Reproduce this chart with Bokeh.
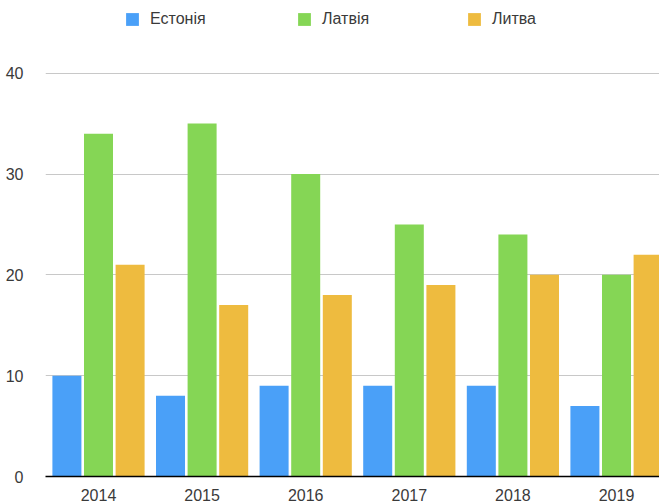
import numpy as np
from bokeh.plotting import figure
from bokeh.models import Range1d, FixedTicker, Legend, LegendItem, ColumnDataSource
from bokeh.embed import file_html
from bokeh.resources import INLINE

years = ["2014", "2015", "2016", "2017", "2018", "2019"]
series_names = ["Естонія", "Латвія", "Литва"]
estonia = [10, 8, 9, 9, 9, 7]
latvia = [34, 35, 30, 25, 24, 20]
lithuania = [21, 17, 18, 19, 20, 22]
y_ticks = [0, 10, 20, 30, 40]

colors = ["#4aa0f8", "#85d655", "#eebb3f"]
offsets = [-0.305, 0.0, 0.305]
FONT = "Liberation Sans"
TEXT = "#3a3a3a"

p = figure(width=659, height=503, output_backend="svg", toolbar_location=None,
           x_range=Range1d(-0.5116, 5.415), y_range=Range1d(0, 47.21),
           min_border_left=45, min_border_right=0, min_border_top=0, min_border_bottom=25)
p.outline_line_color = None
p.background_fill_color = "white"

x = np.arange(len(years))
renderers = []
for vals, col, off in zip([estonia, latvia, lithuania], colors, offsets):
    src = ColumnDataSource(dict(x=x + off, top=vals))
    r = p.vbar(x="x", top="top", width=0.28, source=src, fill_color=col, line_color=None)
    renderers.append(r)

# axes
p.xaxis.ticker = FixedTicker(ticks=list(x))
p.xaxis.major_label_overrides = {int(i): y for i, y in zip(x, years)}
p.xaxis.axis_line_color = "black"
p.xaxis.axis_line_width = 1.5
p.xaxis.major_tick_line_color = None
p.xaxis.minor_tick_line_color = None
p.xaxis.major_label_standoff = 6
p.xaxis.major_label_text_font = FONT
p.xaxis.major_label_text_font_size = "16px"
p.xaxis.major_label_text_color = TEXT

p.yaxis.ticker = FixedTicker(ticks=y_ticks)
p.yaxis.axis_line_color = None
p.yaxis.major_tick_line_color = None
p.yaxis.minor_tick_line_color = None
p.yaxis.major_label_standoff = 16
p.yaxis.major_label_text_font = FONT
p.yaxis.major_label_text_font_size = "16px"
p.yaxis.major_label_text_color = TEXT

p.xgrid.grid_line_color = None
p.ygrid.ticker = FixedTicker(ticks=y_ticks)
p.ygrid.grid_line_color = "#c8c8c8"
p.ygrid.grid_line_width = 1

# legends: one per item for exact placement
legend_x = [79, 251, 421]
for name, r, lx in zip(series_names, renderers, legend_x):
    lg = Legend(items=[LegendItem(label=name, renderers=[r])],
                location=(lx, 448), orientation="horizontal",
                glyph_width=16, glyph_height=16, label_standoff=10,
                padding=0, margin=0, spacing=0,
                background_fill_alpha=0, border_line_color=None,
                label_text_font=FONT, label_text_font_size="16px",
                label_text_color=TEXT, label_height=16)
    p.add_layout(lg, "center")

open("out.html", "w").write(file_html(p, INLINE))
